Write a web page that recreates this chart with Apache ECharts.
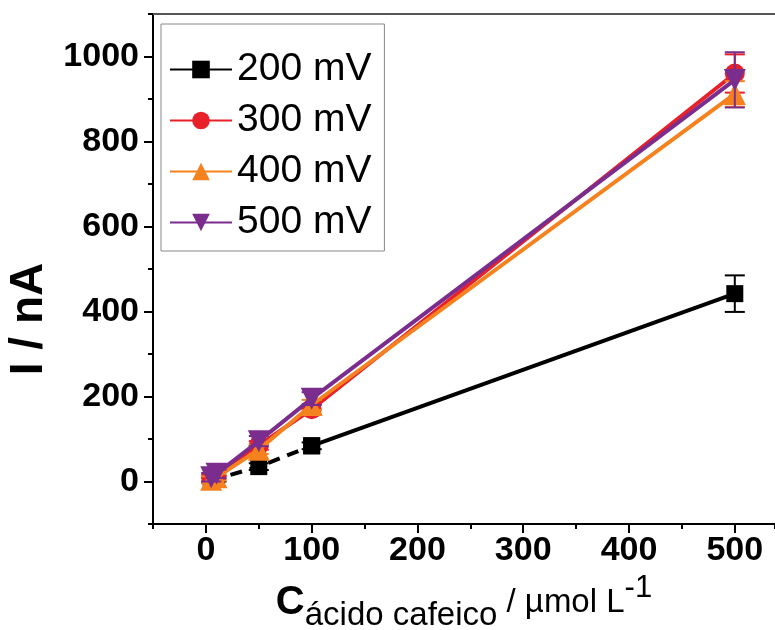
<!DOCTYPE html>
<html><head><meta charset="utf-8">
<script src="https://cdn.jsdelivr.net/npm/echarts@6/dist/echarts.min.js"></script>
<style>html,body{margin:0;padding:0;background:#fff}#c{width:775px;height:630px}</style>
</head><body><div id="c"></div>
<script>
// concentrations (µmol L-1)
const conc = [5, 10, 50, 100, 500];
// currents (nA) per potential
const i200 = [3, 6, 35, 84, 442];
const i300 = [8, 14, 85, 170, 960];
const i400 = [4, 10, 75, 180, 912];
const i500 = [10, 18, 95, 195, 945];
// error bars (nA)
const e200 = [6, 6, 8, 8, 43];
const e300 = [8, 8, 10, 12, 45];
const e400 = [8, 8, 10, 12, 30];
const e500 = [10, 10, 12, 15, 65];
const names = ['200 mV', '300 mV', '400 mV', '500 mV'];
// tick labels
const xTicks = [0, 100, 200, 300, 400, 500];
const yTicks = [0, 200, 400, 600, 800, 1000];

const colors = ['#000000', '#e8202a', '#f5821f', '#7b2d8e'];
const symbols = ['rect', 'circle', 'triangle', 'path://M0,0 L10,0 L5,9 Z'];
const sizes = [17, 20, 22, 22];
const vals = [i200, i300, i400, i500];
const errs = [e200, e300, e400, e500];

const chart = echarts.init(document.getElementById('c'));
const font = 'Liberation Sans, Arial, sans-serif';
const series = [];
vals.forEach((v, k) => {
  const data = conc.map((x, j) => [x, v[j]]);
  const base = {
    type: 'line', z: 3 + k, symbol: symbols[k], symbolSize: sizes[k], color: colors[k],
    itemStyle: { color: colors[k] }, xAxisIndex: 0, yAxisIndex: 0
  };
  if (k === 0) {
    series.push(Object.assign({}, base, { name: names[k], data: data.slice(3), lineStyle: { width: 4, color: colors[k] } }));
    series.push(Object.assign({}, base, { name: names[k], data: data.slice(0, 4), lineStyle: { width: 4, color: colors[k], type: [12, 8] } }));
  } else {
    series.push(Object.assign({}, base, { name: names[k], data: data, lineStyle: { width: 4, color: colors[k] } }));
  }
  series.push({
    type: 'custom', z: 3 + k, silent: true, xAxisIndex: 0, yAxisIndex: 0,
    data: conc.map((x, j) => [x, v[j] - errs[k][j], v[j] + errs[k][j]]),
    renderItem: function (params, api) {
      const x = api.value(0);
      const lo = api.coord([x, api.value(1)]);
      const hi = api.coord([x, api.value(2)]);
      const w = 10;
      const st = { stroke: colors[k], lineWidth: 2 };
      return { type: 'group', children: [
        { type: 'line', shape: { x1: lo[0], y1: lo[1], x2: hi[0], y2: hi[1] }, style: st },
        { type: 'line', shape: { x1: lo[0] - w, y1: lo[1], x2: lo[0] + w, y2: lo[1] }, style: st },
        { type: 'line', shape: { x1: hi[0] - w, y1: hi[1], x2: hi[0] + w, y2: hi[1] }, style: st }
      ]};
    }
  });
});

const tickStyle = { color: '#000', width: 2 };
chart.setOption({
  animation: false,
  grid: { left: 153, top: 14, right: 0, height: 510, outerBoundsMode: 'none', containLabel: false },
  legend: {
    data: names, orient: 'vertical', left: 161, top: 24,
    itemWidth: 62, itemHeight: 22, itemGap: 12,
    padding: [26, 13, 9, 8],
    borderColor: '#888', borderWidth: 1, backgroundColor: '#fff',
    textStyle: { fontSize: 39, fontFamily: font, color: '#000' }
  },
  xAxis: [{
    type: 'value', min: -50, max: 538, interval: 50,
    axisLine: { lineStyle: tickStyle, onZero: false },
    axisTick: { length: 9, lineStyle: tickStyle, customValues: xTicks },
    splitLine: { show: false },
    axisLabel: { fontSize: 34, fontWeight: 'bold', color: '#000', fontFamily: font, margin: 10,
      customValues: xTicks, formatter: v => String(v) },
    name: '{c|C}{s|ácido cafeico}{u| / µmol L}{p|-1}',
    nameLocation: 'middle', nameGap: 44,
    nameTextStyle: {
      color: '#000', fontFamily: font,
      rich: {
        c: { fontSize: 40, fontWeight: 'bold', fontFamily: font, color: '#000', verticalAlign: 'middle', lineHeight: 60 },
        s: { fontSize: 33, fontFamily: font, color: '#000', verticalAlign: 'bottom', lineHeight: 44 },
        u: { fontSize: 33, fontFamily: font, color: '#000', verticalAlign: 'middle', lineHeight: 33 },
        p: { fontSize: 31, fontFamily: font, color: '#000', verticalAlign: 'top', lineHeight: 20 }
      }
    }
  }, {
    type: 'value', min: -50, max: 538, interval: 50, position: 'bottom',
    axisLine: { show: false, onZero: false }, splitLine: { show: false }, axisLabel: { show: false },
    axisTick: { length: 5, lineStyle: tickStyle }
  }, {
    type: 'value', min: -50, max: 538, position: 'top',
    axisLine: { show: true, onZero: false, lineStyle: { color: '#555', width: 2 } },
    splitLine: { show: false }, axisLabel: { show: false }, axisTick: { show: false }
  }],
  yAxis: [{
    type: 'value', min: -100, max: 1100, interval: 100,
    axisLine: { lineStyle: tickStyle, onZero: false },
    axisTick: { length: 9, lineStyle: tickStyle, customValues: yTicks },
    splitLine: { show: false },
    axisLabel: { fontSize: 34, fontWeight: 'bold', color: '#000', fontFamily: font, margin: 14,
      customValues: yTicks, formatter: v => String(v) },
    name: 'I / nA', nameLocation: 'middle', nameGap: 90, nameRotate: 90,
    nameTextStyle: { fontSize: 46, fontWeight: 'bold', color: '#000', fontFamily: font, padding: [0, 100, 0, 0] }
  }, {
    type: 'value', min: -100, max: 1100, interval: 100, position: 'left',
    axisLine: { show: false, onZero: false }, splitLine: { show: false }, axisLabel: { show: false },
    axisTick: { length: 5, lineStyle: tickStyle }
  }],
  series: series
});
</script></body></html>
